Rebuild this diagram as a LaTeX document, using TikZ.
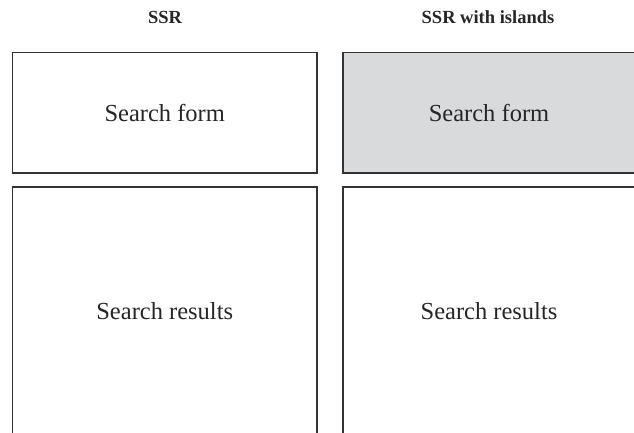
\documentclass[tikz,border=0pt]{standalone}
\usepackage{fontspec}
\setmainfont{Liberation Serif}
\definecolor{edge}{HTML}{333333}
\definecolor{island}{HTML}{D9DADC}
\begin{document}
\begin{tikzpicture}[x=1pt,y=-1pt,
  panel/.style={draw=edge,line width=1.5pt,inner sep=0pt,font=\fontsize{24.5}{28}\selectfont,text=black!85},
  title/.style={font=\bfseries\fontsize{18.5}{22}\selectfont,text=black!85}]
\useasboundingbox (0,0) rectangle (634,432);
\clip (0,0) rectangle (634,432);
\node[title] (t1) at (165,17) {SSR};
\node[title] (t2) at (488,17) {SSR with islands};
\node[panel,minimum width=304.5pt,minimum height=120.5pt] (f1) at (164.75,112.75) {Search form};
\node[panel,minimum width=304.5pt,minimum height=248pt] (r1) at (164.75,311) {Search results};
\node[panel,fill=island,minimum width=292pt,minimum height=120.5pt] (f2) at (489,112.75) {Search form};
\node[panel,minimum width=292pt,minimum height=248pt] (r2) at (489,311) {Search results};
\end{tikzpicture}
\end{document}
